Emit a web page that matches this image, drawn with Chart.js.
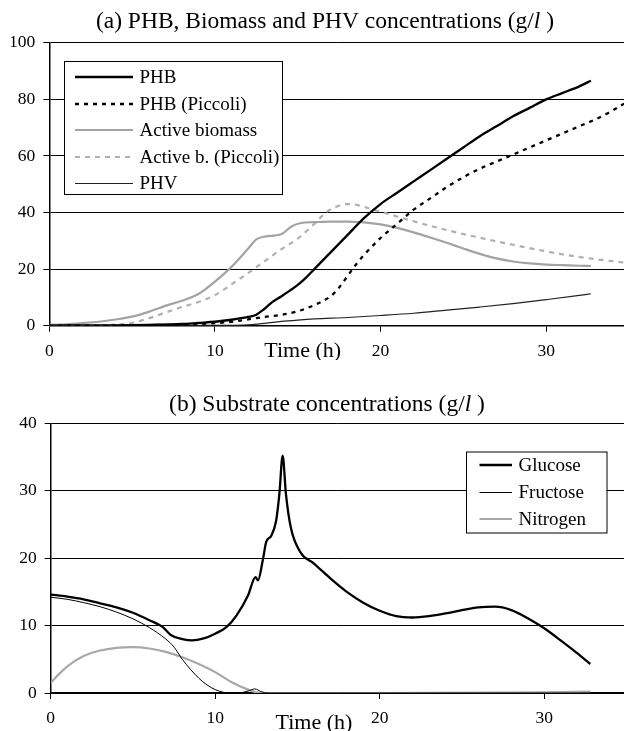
<!DOCTYPE html>
<html lang="en">
<head>
<meta charset="utf-8">
<title>PHB, Biomass, PHV and substrate concentrations</title>
<script src="https://cdn.jsdelivr.net/npm/chart.js@4.4.1/dist/chart.umd.min.js"></script>
<style>
  html, body { margin: 0; padding: 0; background: #fff; }
  #page { width: 624px; height: 731px; overflow: hidden; }
  canvas { display: block; }
</style>
</head>
<body>
<div id="page">
  <canvas id="chart-a" width="624" height="360"></canvas>
  <canvas id="chart-b" width="624" height="371"></canvas>
</div>
<script>
// Tick labels
const timeTicks = [0, 10, 20, 30];
const productTicks = [0, 20, 40, 60, 80, 100];
const substrateTicks = [0, 10, 20, 30, 40];

// (a) PHB, biomass, PHV (g/l)
const phbTime = [0, 2, 4, 6, 8, 9, 10, 11, 12, 12.5, 13, 13.5, 14, 14.5, 15, 15.5, 16, 17, 18, 19, 20, 21, 22, 23, 24, 25, 26, 27, 28, 29, 30, 31, 32, 32.7];
const phbValues = [0.05, 0.1, 0.15, 0.3, 0.6, 1.0, 1.4, 2.1, 3.1, 3.9, 6.0, 8.5, 10.3, 12.3, 14.4, 17, 20, 26, 32, 38, 43, 47, 51, 55, 59, 63, 67, 70.5, 74, 77, 80, 82.3, 84.6, 86.6];

const phbPiccoliTime = [0, 4, 6, 8, 10, 11, 12, 12.5, 13, 14, 15, 16, 17, 17.5, 18, 18.5, 19, 20, 21, 22, 23, 24, 25, 26, 27, 28, 29, 30, 31, 32, 33, 34, 34.7];
const phbPiccoliValues = [0, 0.05, 0.1, 0.4, 0.9, 1.4, 2.2, 2.7, 3.1, 3.8, 5.1, 7.3, 10.5, 13.5, 17.5, 21.5, 25, 31, 36, 41, 45, 49, 52.5, 55.5, 58, 60.5, 63, 65.5, 68, 70.5, 73, 76, 78.5];

const biomassTime = [0, 1, 2, 3, 4, 5, 6, 7, 8, 9, 10, 11, 12, 12.5, 13, 14, 14.6, 15.2, 16, 17, 18, 19, 20, 21, 22, 23, 24, 25, 26, 27, 28, 29, 30, 31, 32, 32.7];
const biomassValues = [0.3, 0.5, 0.9, 1.4, 2.2, 3.2, 4.9, 7.0, 8.8, 11.2, 15.6, 20.8, 27.2, 30.5, 31.5, 32.3, 35, 36.3, 36.6, 36.8, 36.8, 36.5, 35.8, 34.6, 33, 31.2, 29.3, 27.3, 25.4, 23.8, 22.7, 22, 21.6, 21.4, 21.2, 21.1];

const biomassPiccoliTime = [0, 2, 3, 4, 5, 6, 7, 8, 9, 10, 11, 12, 13, 14, 15, 16, 16.7, 17.3, 18, 18.5, 19, 20, 21, 22, 23, 24, 25, 26, 27, 28, 29, 30, 31, 32, 33, 34, 34.7];
const biomassPiccoliValues = [0, 0, 0.1, 0.4, 1.0, 2.6, 4.6, 6.6, 8.4, 10.8, 14.6, 18.6, 22.8, 27, 30.8, 36, 40, 42, 43, 42.8, 42, 40.3, 38.6, 36.9, 35.3, 33.8, 32.4, 31.1, 29.8, 28.6, 27.4, 26.3, 25.2, 24.3, 23.5, 22.8, 22.3];

const phvTime = [0, 10, 12, 13, 14, 15, 16, 18, 20, 22, 24, 26, 28, 30, 32, 32.7];
const phvValues = [0, 0.1, 0.3, 0.8, 1.5, 2.0, 2.4, 2.9, 3.6, 4.4, 5.5, 6.6, 7.8, 9.2, 10.7, 11.3];

// (b) Substrates (g/l)
const glucoseTime = [0, 1, 2, 3, 4, 5, 6, 6.8, 7.3, 8, 8.6, 9.3, 10, 10.7, 11.3, 12, 12.45, 12.6, 12.9, 13.1, 13.4, 13.7, 13.9, 14.1, 14.3, 14.6, 15.2, 16, 17, 18, 19, 20, 21, 22, 23, 24, 25, 26, 27, 28, 29, 30, 31, 32, 32.8];
const glucoseValues = [14.6, 14.3, 13.9, 13.3, 12.7, 11.9, 10.8, 9.8, 8.6, 8.0, 7.8, 8.1, 8.8, 9.8, 11.5, 14.5, 17.2, 16.7, 19.8, 22.4, 23.3, 25.5, 29.5, 35.2, 29.5, 24.5, 20.8, 19.2, 17.0, 15.0, 13.4, 12.2, 11.4, 11.2, 11.4, 11.8, 12.3, 12.7, 12.8, 12.3, 11.1, 9.6, 7.8, 5.9, 4.3];

const fructoseTime = [0, 1, 2, 3, 4, 5, 6, 7, 7.5, 8, 8.5, 9, 9.5, 10, 10.5, 11, 11.5, 12, 12.4, 12.8, 13.2, 14, 20, 25, 30, 32.8];
const fructoseValues = [14.2, 13.9, 13.4, 12.8, 12.0, 11.0, 9.7, 8.0, 6.8, 5.0, 3.5, 2.2, 1.2, 0.5, 0.1, -0.1, 0, 0.3, 0.6, 0.2, 0, 0, 0, 0, 0, 0];

const nitrogenTime = [0, 0.5, 1, 1.5, 2, 3, 4, 5, 6, 7, 8, 9, 10, 11, 12, 12.5, 13, 20, 30, 32.8];
const nitrogenValues = [1.5, 2.8, 3.9, 4.8, 5.5, 6.3, 6.7, 6.8, 6.6, 6.1, 5.3, 4.3, 3.1, 1.6, 0.5, 0.1, 0, 0, 0.1, 0.2];

const SERIF = '"Liberation Serif", "Times New Roman", serif';

Chart.defaults.font.family = SERIF;
Chart.defaults.color = '#000';

// Build {x, y} points from a time list and a value list
function pairs(times, values) {
  return times.map((t, i) => ({ x: t, y: values[i] }));
}

function line(label, times, values, color, width, dash) {
  return {
    label,
    data: pairs(times, values),
    borderColor: color,
    borderWidth: width,
    borderDash: dash || [],
    pointRadius: 0,
    fill: false,
    cubicInterpolationMode: 'monotone',
    borderJoinStyle: 'round',
  };
}

// Title with italic "l", legend box and axis title drawn on top of the chart
const paperDecor = {
  id: 'paperDecor',
  afterDraw(chart, args, opts) {
    const ctx = chart.ctx;
    const area = chart.chartArea;
    ctx.save();

    // title
    ctx.fillStyle = '#000';
    ctx.textAlign = 'left';
    ctx.textBaseline = 'alphabetic';
    let total = 0;
    opts.title.forEach((part) => {
      ctx.font = part.font;
      total += ctx.measureText(part.text).width;
    });
    let x = opts.titleX - total / 2;
    opts.title.forEach((part) => {
      ctx.font = part.font;
      ctx.fillText(part.text, x, opts.titleY);
      x += ctx.measureText(part.text).width;
    });

    // axis title, sitting between the tick labels
    const xScale = chart.scales.x;
    ctx.font = '22px ' + SERIF;
    ctx.textAlign = 'center';
    ctx.fillText(opts.axisTitle, xScale.getPixelForValue(opts.axisTitleAt), area.bottom + opts.axisTitleDy);

    // legend
    const lg = opts.legend;
    ctx.fillStyle = '#fff';
    ctx.fillRect(lg.x, lg.y, lg.w, lg.h);
    ctx.strokeStyle = '#000';
    ctx.lineWidth = 1;
    ctx.strokeRect(lg.x + 0.5, lg.y + 0.5, lg.w, lg.h);
    ctx.font = '19px ' + SERIF;
    ctx.textAlign = 'left';
    ctx.textBaseline = 'middle';
    chart.data.datasets.forEach((ds, i) => {
      const yy = lg.firstRow + i * lg.rowStep;
      // thin lines sit on a pixel centre so they stay crisp
      const snap = Math.round(ds.borderWidth) % 2 === 1 ? Math.floor(yy) + 0.5 : Math.round(yy);
      ctx.setLineDash(ds.borderDash || []);
      ctx.strokeStyle = ds.borderColor;
      ctx.lineWidth = ds.borderWidth;
      ctx.beginPath();
      ctx.moveTo(lg.lineFrom, snap);
      ctx.lineTo(lg.lineTo, snap);
      ctx.stroke();
      ctx.setLineDash([]);
      ctx.fillStyle = '#000';
      ctx.fillText(ds.label, lg.textX, yy + 1);
    });

    ctx.restore();
  },
};

function buildOptions(cfg) {
  return {
    responsive: false,
    animation: false,
    layout: { padding: { top: cfg.padTop, left: cfg.padLeft, right: 0, bottom: 0 } },
    plugins: {
      legend: { display: false },
      title: { display: false },
      tooltip: { enabled: false },
      paperDecor: cfg.decor,
    },
    scales: {
      x: {
        type: 'linear',
        min: 0,
        max: cfg.xMax,
        afterBuildTicks: (scale) => { scale.ticks = timeTicks.map((v) => ({ value: v })); },
        afterFit: (scale) => { scale.height = cfg.xHeight; },
        ticks: { font: { size: 17.5 }, padding: 9, maxRotation: 0, color: '#000' },
        grid: { display: true, drawOnChartArea: false, drawTicks: true, tickLength: 6, color: '#000', lineWidth: 1 },
        border: { display: true, color: '#000', width: 1.5 },
      },
      y: {
        min: 0,
        max: cfg.yMax,
        afterBuildTicks: (scale) => { scale.ticks = cfg.yTicks.map((v) => ({ value: v })); },
        afterFit: (scale) => { scale.width = 38; },
        ticks: { font: { size: 17.5 }, padding: 8, color: '#000' },
        grid: { color: '#000', lineWidth: 1, tickLength: 6, drawTicks: true },
        border: { display: true, color: '#000', width: 1.5 },
      },
    },
  };
}

// (a) chart
new Chart(document.getElementById('chart-a'), {
  type: 'line',
  data: {
    datasets: [
      line('PHB', phbTime, phbValues, '#000', 2.3),
      line('PHB (Piccoli)', phbPiccoliTime, phbPiccoliValues, '#000', 2.3, [4, 5]),
      line('Active biomass', biomassTime, biomassValues, '#a3a3a3', 2.2),
      line('Active b. (Piccoli)', biomassPiccoliTime, biomassPiccoliValues, '#b0b0b0', 2.2, [5, 5]),
      line('PHV', phvTime, phvValues, '#222', 1.2),
    ],
  },
  options: buildOptions({
    padTop: 42.8,
    padLeft: 11.3,
    xMax: 34.7,
    xHeight: 34.3,
    yMax: 100,
    yTicks: productTicks,
    decor: {
      title: [
        { text: '(a) PHB, Biomass and PHV concentrations (g/', font: '23.5px ' + SERIF },
        { text: 'l', font: 'italic 23.5px ' + SERIF },
        { text: ' )', font: '23.5px ' + SERIF },
      ],
      titleX: 325,
      titleY: 28.3,
      axisTitle: 'Time (h)',
      axisTitleAt: 15.3,
      axisTitleDy: 31.6,
      legend: { x: 64, y: 61, w: 218, h: 133, lineFrom: 75, lineTo: 133, textX: 139.5, firstRow: 77.3, rowStep: 26.5 },
    },
  }),
  plugins: [paperDecor],
});

// (b) chart
new Chart(document.getElementById('chart-b'), {
  type: 'line',
  data: {
    datasets: [
      line('Glucose', glucoseTime, glucoseValues, '#000', 2.3),
      line('Fructose', fructoseTime, fructoseValues, '#000', 1),
      line('Nitrogen', nitrogenTime, nitrogenValues, '#a8a8a8', 2.2),
    ],
  },
  options: buildOptions({
    padTop: 63.3,
    padLeft: 12.7,
    xMax: 34.85,
    xHeight: 38,
    yMax: 40,
    yTicks: substrateTicks,
    decor: {
      title: [
        { text: '(b) Substrate concentrations (g/', font: '23.5px ' + SERIF },
        { text: 'l', font: 'italic 23.5px ' + SERIF },
        { text: ' )', font: '23.5px ' + SERIF },
      ],
      titleX: 327,
      titleY: 50.5,
      axisTitle: 'Time (h)',
      axisTitleAt: 16.0,
      axisTitleDy: 36,
      legend: { x: 466, y: 91.5, w: 140.5, h: 81, lineFrom: 479.5, lineTo: 512, textX: 518.5, firstRow: 105, rowStep: 27 },
    },
  }),
  plugins: [paperDecor],
});
</script>
</body>
</html>
